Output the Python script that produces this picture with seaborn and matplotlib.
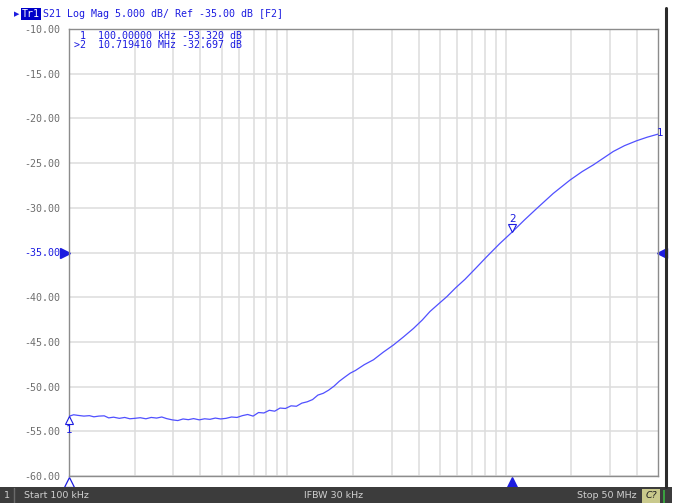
import matplotlib
matplotlib.use("Agg")
import matplotlib.pyplot as plt
import matplotlib.transforms as mtransforms
from matplotlib import font_manager
from matplotlib.patches import Rectangle
from matplotlib.lines import Line2D
import seaborn as sns
import pandas as pd

# trace data (Hz, dB)
freq_hz = [100e3, 105e3, 110e3, 117e3, 124e3, 130e3, 137e3, 145e3, 152e3, 160e3,
           170e3, 180e3, 190e3, 200e3, 212e3, 225e3, 238e3, 252e3, 266e3, 280e3,
           297e3, 315e3, 333e3, 352e3, 372e3, 395e3, 418e3, 442e3, 468e3, 495e3,
           524e3, 555e3, 588e3, 622e3, 658e3, 697e3, 738e3, 781e3, 827e3, 875e3,
           926e3, 980e3, 1.04e6, 1.10e6, 1.165e6, 1.233e6, 1.305e6, 1.38e6, 1.46e6, 1.545e6,
           1.636e6, 1.73e6, 1.83e6, 1.94e6, 2.05e6, 2.25e6, 2.48e6, 2.75e6, 3.06e6, 3.4e6,
           3.78e6, 4.15e6, 4.5e6, 4.9e6, 5.37e6, 5.9e6, 6.51e6, 7.3e6, 8.19e6, 9.35e6,
           10.71941e6, 12.2e6, 13.9e6, 16.5e6, 19.7e6, 22.4e6, 25.2e6, 28.0e6, 31.1e6, 35.0e6,
           39.8e6, 44.5e6, 50e6]
s21_db = [-53.32, -53.15, -53.22, -53.30, -53.25, -53.38, -53.30, -53.27, -53.50, -53.42,
          -53.55, -53.45, -53.60, -53.55, -53.48, -53.60, -53.45, -53.52, -53.40, -53.58,
          -53.72, -53.80, -53.62, -53.70, -53.58, -53.72, -53.60, -53.66, -53.52, -53.62,
          -53.55, -53.40, -53.45, -53.25, -53.12, -53.30, -52.90, -52.95, -52.65, -52.75,
          -52.40, -52.45, -52.15, -52.20, -51.85, -51.70, -51.45, -50.95, -50.75, -50.40,
          -49.95, -49.40, -48.95, -48.50, -48.20, -47.55, -47.00, -46.15, -45.35, -44.45,
          -43.50, -42.55, -41.60, -40.80, -39.95, -38.95, -38.00, -36.75, -35.47, -34.05,
          -32.697, -31.35, -30.06, -28.40, -26.90, -25.95, -25.20, -24.45, -23.70, -23.05,
          -22.50, -22.10, -21.75]

marker_freq = [100e3, 10.71941e6]
marker_db = [-53.32, -32.697]
y_ticks = [-10, -15, -20, -25, -30, -35, -40, -45, -50, -55, -60]
x_grid = [2e5, 3e5, 4e5, 5e5, 6e5, 7e5, 8e5, 9e5, 1e6,
          2e6, 3e6, 4e6, 5e6, 6e6, 7e6, 8e6, 9e6, 1e7,
          2e7, 3e7, 4e7]
ref_db = -35

trace_c = "#5050ff"
text_c = "#1c1ce0"
grey_c = "#6e6e6e"

sns.set_style("white")
plt.rcParams['font.family'] = ['DejaVu Sans Mono', 'DejaVu Sans']

names = {f.name for f in font_manager.fontManager.ttflist}
bar_font = 'Liberation Sans Narrow' if 'Liberation Sans Narrow' in names else 'DejaVu Sans'

W, H = 677, 503
fig = plt.figure(figsize=(W / 100, H / 100), dpi=100)
fig.patch.set_facecolor("white")


def fx(px):
    return px / W


def fy(py):
    return 1 - py / H


ax = fig.add_axes([fx(69), fy(476), fx(658.3) - fx(69), fy(29) - fy(476)])
df = pd.DataFrame({"freq": freq_hz, "s21": s21_db})
sns.lineplot(data=df, x="freq", y="s21", ax=ax, color=trace_c, lw=0.9, zorder=3)
ax.set_xscale("log")
ax.set_xlim(1e5, 5e7)
ax.set_ylim(-60, -10)
ax.set_xlabel("")
ax.set_ylabel("")

ax.set_xticks(x_grid)
ax.xaxis.set_minor_locator(matplotlib.ticker.NullLocator())
ax.set_xticklabels([])
ax.set_yticks(y_ticks)
ax.set_yticklabels([f"{v:.2f}" for v in y_ticks])
ax.tick_params(axis="both", length=0)
ax.tick_params(axis="y", pad=6.5, labelsize=7.2, labelcolor=grey_c)
for lab, v in zip(ax.get_yticklabels(), y_ticks):
    if v == ref_db:
        lab.set_color(text_c)
ax.grid(True, color="#dddddd", lw=1.1)
for s in ax.spines.values():
    s.set_color("#8c8c8c")
    s.set_linewidth(1.0)

# marker symbols on the trace
up4 = mtransforms.offset_copy(ax.transData, fig=fig, x=0, y=4, units="dots")
dn4 = mtransforms.offset_copy(ax.transData, fig=fig, x=0, y=-4, units="dots")
ax.plot([marker_freq[1]], [marker_db[1]], marker="v", ms=5.5, mfc="white", mec=text_c,
        mew=0.8, transform=up4, clip_on=False, zorder=5)
ax.annotate("2", (marker_freq[1], marker_db[1]), xytext=(0, 13), textcoords="offset pixels",
            ha="center", va="center", color=text_c, fontsize=7.5, family="DejaVu Sans")
ax.plot([marker_freq[0]], [marker_db[0]], marker="^", ms=5.5, mfc="white", mec=text_c,
        mew=0.8, transform=dn4, clip_on=False, zorder=5)
ax.annotate("1", (marker_freq[0], marker_db[0]), xytext=(0, -14), textcoords="offset pixels",
            ha="center", va="center", color=text_c, fontsize=7.5, family="DejaVu Sans")
# trace number at the end of the trace
ax.annotate("1", (freq_hz[-1], s21_db[-1]), xytext=(-1, 1), textcoords="offset pixels",
            ha="left", va="center", color=text_c, fontsize=7.5, family="DejaVu Sans",
            annotation_clip=False)

# stimulus markers below the grid
bx = mtransforms.blended_transform_factory(ax.transData, ax.transAxes)
ax.plot([marker_freq[0]], [-6 / 447], marker="^", ms=7.5, mfc="white", mec=text_c, mew=0.9,
        transform=bx, clip_on=False)
ax.plot([marker_freq[1]], [-6 / 447], marker="^", ms=7.5, mfc=text_c, mec=text_c, mew=0.9,
        transform=bx, clip_on=False)

# reference level arrows
ry = mtransforms.blended_transform_factory(ax.transAxes, ax.transData)
ax.plot([-4 / 589], [ref_db], marker=">", ms=7.5, color=text_c, transform=ry, clip_on=False)
ax.plot([1 + 4 / 589], [ref_db], marker="<", ms=7.5, color=text_c, transform=ry, clip_on=False)

# header line
fig.text(fx(14), fy(14), "\u25b6", color=text_c, fontsize=5, va="center", family="DejaVu Sans")
fig.text(fx(22), fy(14), "Tr1", color="white", fontsize=7.2, va="center",
         bbox=dict(facecolor="#0000c8", edgecolor="none", pad=0.6))
fig.text(fx(43), fy(14), "S21 Log Mag 5.000 dB/ Ref -35.00 dB [F2]", color=text_c,
         fontsize=7.2, va="center")

# marker table
fig.text(fx(74), fy(36), f" 1  {marker_freq[0] / 1e3:.5f} kHz {marker_db[0]:.3f} dB",
         color=text_c, fontsize=7.2, va="center")
fig.text(fx(74), fy(45), f">2  {marker_freq[1] / 1e6:.6f} MHz {marker_db[1]:.3f} dB",
         color=text_c, fontsize=7.2, va="center")

# right dark frame line
fig.add_artist(Line2D([fx(666), fx(666)], [fy(8), fy(487)], color="#2b2b2b", lw=2.2))

# status bar
fig.add_artist(Rectangle((0, 0), fx(672), fy(487), facecolor="#3c3c3c", edgecolor="none"))
fig.add_artist(Line2D([fx(14), fx(14)], [0, fy(488)], color="#6a6a6a", lw=1))
fig.text(fx(4), fy(495), "1", color="#d0d0d0", fontsize=6.8, va="center", family=bar_font)
fig.text(fx(24), fy(495), "Start 100 kHz", color="#d0d0d0", fontsize=6.8, va="center",
         family=bar_font)
fig.text(fx(334), fy(495), "IFBW 30 kHz", color="#d0d0d0", fontsize=6.8, va="center",
         ha="center", family=bar_font)
fig.text(fx(637), fy(495), "Stop 50 MHz", color="#d0d0d0", fontsize=6.8, va="center",
         ha="right", family=bar_font)
fig.add_artist(Rectangle((fx(642), 0), fx(18), fy(489), facecolor="#c9c98c", edgecolor="none"))
fig.text(fx(651), fy(495), "C?", color="#202020", fontsize=6.8, va="center", ha="center",
         style="italic", family=bar_font)
fig.add_artist(Rectangle((fx(663), 0), fx(2), fy(490), facecolor="#3aa040", edgecolor="none"))

fig.savefig("out.png", dpi=100)
